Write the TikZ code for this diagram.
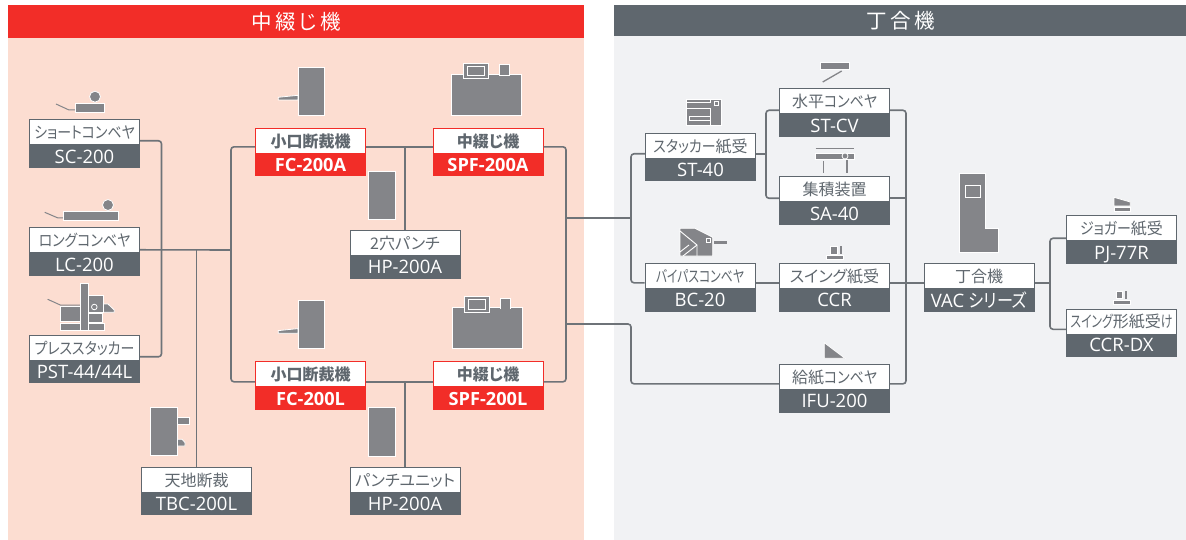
\documentclass[tikz,border=0pt]{standalone}
\usepackage{fontspec}
\setmainfont{Open Sans}
\newfontfamily\jp[RawFeature=+palt]{Noto Sans CJK JP}
\newfontfamily\kn[RawFeature=+palt,FakeStretch=0.87]{Noto Sans CJK JP}
\newfontfamily\kt[RawFeature=+palt,FakeStretch=0.74]{Noto Sans CJK JP}
\definecolor{hdred}{HTML}{F22D28}
\definecolor{hdgray}{HTML}{5F676E}
\definecolor{pnlred}{HTML}{FCDDD1}
\definecolor{pnlgray}{HTML}{F1F2F4}
\definecolor{linkgray}{HTML}{6E7378}
\definecolor{icongray}{HTML}{848589}

\begin{document}
\begin{tikzpicture}[x=1pt, y=-1pt,
    namebox/.style={rectangle, draw=hdgray, fill=white, line width=1pt, text=hdgray, minimum width=110pt, minimum height=25pt, inner sep=0pt, text height=14.6pt, text depth=2pt, font=\jp\fontsize{16}{18}\selectfont},
    modelbox/.style={rectangle, fill=hdgray, text=white, minimum width=111pt, minimum height=23pt, inner sep=0pt, text height=13.2pt, text depth=0pt, font=\fontsize{18.5}{20}\selectfont},
    rednamebox/.style={namebox, draw=hdred, font=\jp\bfseries\fontsize{16}{18}\selectfont},
    redmodelbox/.style={modelbox, fill=hdred, font=\bfseries\fontsize{18.2}{20}\selectfont},
    header/.style={rectangle, text=white, minimum height=30pt, inner sep=0pt, font=\jp\fontsize{20.5}{22}\selectfont},
    link/.style={draw=linkgray, line width=1.6pt, rounded corners=3pt},
    icon/.style={fill=icongray, draw=white, line width=0.8pt},
    iconline/.style={draw=icongray, line width=1.3pt},
    iconslit/.style={draw=white, line width=0.9pt}]
    \useasboundingbox (0,0) rectangle (1186,540);

    % panels
    \fill[pnlred] (8,38) rectangle (584,540);
    \fill[pnlgray] (614,36) rectangle (1186,540);
    \fill[hdred] (8,5) rectangle (584,38);
    \fill[hdgray] (614,5) rectangle (1186,36);
    \node[header] (saddle) at (296,21.5) {中\,綴\,じ\,機};
    \node[header] (collator) at (901,20.5) {丁\,合\,機};

    % left column
    \node[namebox] (sc) at (84.5,132) {{\kn ショートコンベヤ}};
    \node[modelbox] (scm) at (84.5,156.5) {SC-200};
    \node[namebox] (lc) at (84.5,240) {{\kn ロングコンベヤ}};
    \node[modelbox] (lcm) at (84.5,264.5) {LC-200};
    \node[namebox] (pst) at (84.5,348) {{\kn プレススタッカー}};
    \node[modelbox] (pstm) at (84.5,371.5) {PST-44/44L};
    \node[namebox] (tbc) at (196.5,480) {天地断裁};
    \node[modelbox] (tbcm) at (196.5,503.5) {TBC-200L};

    % saddle stitchers
    \node[rednamebox] (fca) at (310.5,141) {小口断裁機};
    \node[redmodelbox] (fcam) at (310.5,165) {FC-200A};
    \node[rednamebox] (spfa) at (488,141) {中綴じ機};
    \node[redmodelbox] (spfam) at (488,165) {SPF-200A};
    \node[namebox] (hpa) at (405,243) {2穴パンチ};
    \node[modelbox] (hpam) at (405,267) {HP-200A};
    \node[rednamebox] (fcl) at (310.5,374) {小口断裁機};
    \node[redmodelbox] (fclm) at (310.5,398.5) {FC-200L};
    \node[rednamebox] (spfl) at (488,374) {中綴じ機};
    \node[redmodelbox] (spflm) at (488,398.5) {SPF-200L};
    \node[namebox] (hpl) at (405,480) {パンチユニット};
    \node[modelbox] (hplm) at (405,503.5) {HP-200A};

    % collator side
    \node[namebox] (st) at (700.5,146) {{\kn スタッカー}紙受};
    \node[modelbox] (stm) at (700.5,170) {ST-40};
    \node[namebox] (stcv) at (834.5,101.5) {水平{\kn コンベヤ}};
    \node[modelbox] (stcvm) at (834.5,125.5) {ST-CV};
    \node[namebox] (sa) at (834.5,189.5) {集積装置};
    \node[modelbox] (sam) at (834.5,213.5) {SA-40};
    \node[namebox] (bc) at (700,276) {{\kt バイパスコンベヤ}};
    \node[modelbox] (bcm) at (700,300) {BC-20};
    \node[namebox] (ccr) at (834.5,276) {スイング紙受};
    \node[modelbox] (ccrm) at (834.5,300) {CCR};
    \node[namebox] (ifu) at (834.5,377) {給紙{\kn コンベヤ}};
    \node[modelbox] (ifum) at (834.5,401) {IFU-200};
    \node[namebox] (vac) at (979,276) {丁合機};
    \node[modelbox] (vacm) at (979,300.5) {VAC {\kn シリーズ}};
    \node[namebox] (pj) at (1121.5,228.5) {{\kn ジョガー}紙受};
    \node[modelbox] (pjm) at (1121.5,252.5) {PJ-77R};
    \node[namebox] (dx) at (1121.5,321.5) {{\kt スイング}形紙受{\kt け}};
    \node[modelbox] (dxm) at (1121.5,345) {CCR-DX};

    % bus points
    \coordinate (busa) at (161.5,250);
    \coordinate (busb) at (231,250);
    \coordinate (busc) at (766,154);
    \coordinate (busd) at (906,283);
    \coordinate (buse) at (631,218);
    \coordinate (busf) at (566,218);
    \coordinate (busg) at (566,324);
    \coordinate (bush) at (631,350);
    \coordinate (busi) at (1050,283);

    \draw[link] (sc.-9.5) -| (busa) |- (pst.-9.5);
    \draw[link] (lc.-10) -- (busb);
    \draw[link] (fca.186.5) -| (busb) |- (fcl.188);
    \draw[link] (tbc.north) -- (tbc.north |- busb);
    \draw[link] (fca.-6.5) -- (spfa.186.5);
    \draw[link] (hpa.north) -- (hpa.north |- fca.-6.5);
    \draw[link] (fcl.-8) -- (spfl.188);
    \draw[link] (hpl.north) -- (hpl.north |- fcl.-8);
    \draw[link] (spfa.-6.5) -| (busf) |- (spfl.-8);
    \draw[link] (busf) -- (buse);
    \draw[link] (st.188.5) -| (buse) |- (bc.187);
    \draw[link] (busg) -| (bush) |- (ifu.187);
    \draw[link] (st.-8.5) -- (st.-8.5 -| busc);
    \draw[link] (stcv.189) -| (busc) |- (sa.189.5);
    \draw[link] (stcv.-9) -| (busd) |- (ifu.-7);
    \draw[link] (sa.-9.5) -- (sa.-9.5 -| busd);
    \draw[link] (bc.-7) -- (ccr.187);
    \draw[link] (ccr.-7) -- (vac.187);
    \draw[link] (vac.-7) -- (vac.-7 -| busi);
    \draw[link] (pj.190.5) -| (busi) |- (dx.188);

    % icons
    % SC-200
    \draw[iconline, line width=1pt] (56,104) -- (69,110) -- (75,110);
    \filldraw[icon] (75,103.3) rectangle (104.3,112);
    \filldraw[icon] (95,96.7) circle (5.5);
    % LC-200
    \draw[iconline, line width=1pt] (44.7,212.3) -- (58,218) -- (64,218);
    \filldraw[icon] (63.7,211.7) rectangle (118,220.3);
    \filldraw[icon] (108,205) circle (5.5);
    % PST-44
    \draw[iconline, line width=1pt] (47.7,299.3) -- (60.3,305) -- (80,305);
    \filldraw[icon] (60.3,306) rectangle (80.3,321.7);
    \filldraw[icon] (60.3,323.3) rectangle (80.3,330.7);
    \filldraw[icon] (88.3,323.3) rectangle (104.3,330.7);
    \filldraw[icon] (88.3,313) rectangle (102,322);
    \filldraw[icon] (103.3,304) -- (108,304) -- (114.3,310) -- (114.3,312.3) -- (103.3,312.3) -- cycle;
    \filldraw[icon] (88.3,295.7) rectangle (103.3,312);
    \filldraw[icon] (80.3,283.3) rectangle (88.3,330.7);
    \filldraw[icon] (94.3,307) circle (2.8);
    % TBC-200L
    \filldraw[icon] (177.3,417.3) rectangle (189,424);
    \filldraw[icon] (177.3,439.3) -- (182,439.3) -- (185,442.5) -- (185,446) -- (177.3,446) -- cycle;
    \filldraw[icon] (150.3,407.7) rectangle (177.3,455.7);
    % FC-200A
    \filldraw[icon] (278.3,97.3) -- (298,95.3) -- (298,100) -- (278.3,100) -- cycle;
    \filldraw[icon] (298,67) rectangle (324.7,115);
    % FC-200L
    \filldraw[icon] (278.3,330.6) -- (298,328.6) -- (298,333.3) -- (278.3,333.3) -- cycle;
    \filldraw[icon] (298,300.3) rectangle (324.7,348.3);
    % SPF-200A
    \filldraw[icon] (451.3,74) rectangle (521.7,115);
    \filldraw[icon] (463.7,63) rectangle (488.3,78.7);
    \draw[iconslit] (467.3,66) rectangle (484.3,75.7);
    \filldraw[icon] (499.7,64.7) rectangle (509.3,75);
    \fill[icongray] (500.1,72) rectangle (508.9,75);
    % SPF-200L
    \filldraw[icon] (452,307.7) rectangle (522.4,348.7);
    \filldraw[icon] (464.4,296.7) rectangle (489,312.4);
    \draw[iconslit] (468,299.7) rectangle (485,309.4);
    \filldraw[icon] (500.4,298.4) rectangle (510,308.7);
    \fill[icongray] (500.8,305.7) rectangle (509.6,308.7);
    % HP-200A
    \filldraw[icon] (368,171) rectangle (395,219);
    \filldraw[icon] (368,407.7) rectangle (395,456);
    % ST-40
    \filldraw[icon] (686.7,99) rectangle (721.7,125.7);
    \draw[iconslit] (686.7,102) -- (710.7,102) -- (710.7,99);
    \draw[iconslit] (686.7,108.5) -- (710.5,108.5) -- (710.5,125.7);
    \draw[iconslit] (710.5,116) -- (689.5,116) -- (689.5,120) -- (710.5,120);
    \draw[iconslit] (714.5,101.5) rectangle (718.5,105.5);
    % ST-CV
    \filldraw[icon] (820.7,62.7) rectangle (849,69.3);
    \draw[iconline] (822.7,82) -- (841.7,71);
    % SA-40
    \draw[iconline, line width=1pt] (815.7,149) -- (854,149);
    \filldraw[icon] (815.7,153) rectangle (854,159.3);
    \filldraw[icon] (845,156) circle (3);
    \draw[iconline] (823.3,161) -- (823.3,172.7);
    \draw[iconline] (847,160) -- (847,172.7);
    % BC-20
    \filldraw[icon] (680,228.3) -- (695,228.3) -- (712.7,237.3) -- (712.7,256) -- (680,256) -- cycle;
    \draw[iconslit] (680,231) -- (697,245) -- (697,256);
    \draw[iconslit] (697,245) -- (683,256);
    \draw[iconslit] (689,245) -- (680,252);
    \draw[iconslit] (706,238.5) rectangle (710,242.5);
    \fill[icongray] (713.5,240.7) rectangle (727,244);
    % CCR
    \filldraw[icon] (826.7,255.7) rectangle (843.3,259);
    \filldraw[icon] (830,246) rectangle (837.3,254);
    \fill[icongray] (840,246) rectangle (842,254);
    % IFU-200
    \filldraw[icon] (824.3,342.7) -- (845,358.3) -- (824.3,358.3) -- cycle;
    % VAC
    \filldraw[icon] (959.3,173.3) -- (985,173.3) -- (985,228.3) -- (998.7,228.3) -- (998.7,252.3) -- (959.3,252.3) -- cycle;
    \draw[iconslit] (965,185) rectangle (980,197.3);
    % PJ-77R
    \filldraw[icon] (1114,197.3) -- (1130.3,202) -- (1130.3,206) -- (1114,206) -- cycle;
    \filldraw[icon] (1114,207.3) rectangle (1130.3,211.7);
    % CCR-DX
    \filldraw[icon] (1113,300) rectangle (1130,304);
    \filldraw[icon] (1116,291.3) rectangle (1122.7,298.7);
    \fill[icongray] (1125,291.3) rectangle (1127,298.7);
\end{tikzpicture}
\end{document}
